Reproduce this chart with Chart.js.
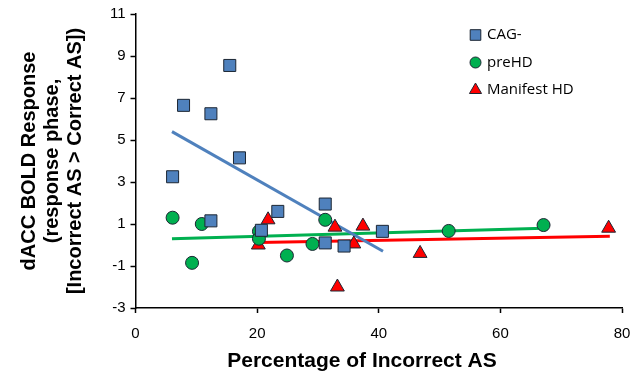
<!DOCTYPE html>
<html>
<head>
<meta charset="utf-8">
<script src="https://cdn.jsdelivr.net/npm/chart.js@4/dist/chart.umd.min.js"></script>
<style>
  html, body { margin: 0; padding: 0; background: #fff; }
  canvas { display: block; }
</style>
</head>
<body>
<canvas id="chartAS" width="632" height="371"></canvas>
<script>
// % incorrect antisaccades vs. dACC response, by group
const cagX = [15.5, 7.9, 12.4, 17.1, 6.1, 12.4, 23.4, 20.7, 31.2, 31.2, 34.3, 40.6];
const cagY = [8.55, 6.65, 6.25, 4.15, 3.25, 1.15, 1.6, 0.7, 1.95, 0.1, -0.05, 0.65];
const preX = [6.1, 9.3, 10.9, 20.3, 20.3, 24.9, 29.1, 31.2, 51.5, 67.1];
const preY = [1.3, -0.85, 1.0, 0.65, 0.3, -0.5, 0.05, 1.2, 0.67, 0.95];
const manX = [20.2, 21.8, 32.8, 33.2, 35.9, 37.4, 46.8, 77.8];
const manY = [0.0, 1.2, 0.85, -2.0, 0.05, 0.9, -0.4, 0.8];

// linear trend end points for each group
const cagFitX = [6.0, 40.7];
const cagFitY = [5.4, -0.3];
const preFitX = [6.0, 67.1];
const preFitY = [0.3, 0.8];
const manFitX = [20.2, 78.0];
const manFitY = [0.12, 0.42];

const xTicks = [0, 20, 40, 60, 80];
const yTicks = [-3, -1, 1, 3, 5, 7, 9, 11];

const xTitle = 'Percentage of Incorrect AS';
const yTitle = ['dACC BOLD Response', '(response phase,', '[Incorrect AS > Correct AS])'];

const BLUE = '#4f81bd';
const GREEN = '#00b050';
const RED = '#ff0000';
const EDGE = '#1c2633';
const FONT = '"Liberation Sans", Arial, sans-serif';

const pts = (xs, ys) => xs.map((x, i) => ({ x: x, y: ys[i] }));

function marks(label, xs, ys, color, style, r) {
  return {
    label: label,
    data: pts(xs, ys),
    pointStyle: style,
    pointRadius: r,
    pointHoverRadius: r,
    backgroundColor: color,
    borderColor: EDGE,
    borderWidth: 1,
    showLine: false,
    order: 1
  };
}

function fit(xs, ys, color) {
  return {
    data: pts(xs, ys),
    showLine: true,
    borderColor: color,
    borderWidth: 3,
    pointRadius: 0,
    fill: false,
    order: 2,
    trend: true
  };
}

// legend in the upper right + x axis title (sits a bit left of plot centre)
const extras = {
  id: 'extras',
  afterDraw(chart) {
    const ctx = chart.ctx;
    let y = 35;
    chart.data.datasets.forEach((ds) => {
      if (ds.trend) return;
      ctx.save();
      ctx.fillStyle = ds.backgroundColor;
      ctx.strokeStyle = ds.borderColor;
      ctx.lineWidth = 1;
      Chart.helpers.drawPoint(ctx, { pointStyle: ds.pointStyle, radius: ds.pointRadius - 1, rotation: 0, borderWidth: 1 }, 475.5, y);
      ctx.fillStyle = '#000';
      ctx.font = '15px "Open Sans", ' + FONT;
      ctx.textBaseline = 'middle';
      ctx.textAlign = 'left';
      ctx.fillText(ds.label, 487, y);
      ctx.restore();
      y += 27.5;
    });

    ctx.save();
    ctx.fillStyle = '#000';
    ctx.font = 'bold 21px ' + FONT;
    ctx.textAlign = 'center';
    ctx.textBaseline = 'alphabetic';
    ctx.fillText(xTitle, 362, 366.5);
    ctx.restore();
  }
};

new Chart(document.getElementById('chartAS'), {
  type: 'scatter',
  data: {
    datasets: [
      marks('CAG-', cagX, cagY, BLUE, 'rect', 8.5),
      marks('preHD', preX, preY, GREEN, 'circle', 6.5),
      marks('Manifest HD', manX, manY, RED, 'triangle', 8),
      fit(cagFitX, cagFitY, BLUE),
      fit(preFitX, preFitY, GREEN),
      fit(manFitX, manFitY, RED)
    ]
  },
  options: {
    responsive: false,
    animation: false,
    layout: { padding: { top: 14, right: 0, left: 0, bottom: 0 } },
    plugins: {
      legend: { display: false },
      tooltip: { enabled: false }
    },
    scales: {
      x: {
        type: 'linear',
        min: 0,
        max: 80,
        afterBuildTicks: (s) => { s.ticks = xTicks.map((v) => ({ value: v })); },
        afterFit: (s) => { s.height = 63; s.paddingLeft = 0; s.paddingRight = 10; },
        border: { display: true, color: '#000', width: 1.5 },
        grid: { drawOnChartArea: false, color: '#000', tickLength: 5, tickWidth: 1.5 },
        ticks: { color: '#000', padding: 12, font: { family: FONT, size: 15 } }
      },
      y: {
        type: 'linear',
        min: -3,
        max: 11,
        afterBuildTicks: (s) => { s.ticks = yTicks.map((v) => ({ value: v })); },
        afterFit: (s) => { s.width = 135.5; },
        border: { display: true, color: '#000', width: 1.5 },
        grid: { drawOnChartArea: false, color: '#000', tickLength: 5, tickWidth: 1.5 },
        ticks: { color: '#000', padding: 5, font: { family: FONT, size: 15 } },
        title: {
          display: true,
          text: yTitle,
          color: '#000',
          font: { family: FONT, size: 20, weight: 'bold', lineHeight: 1.15 },
          padding: { top: 17.5, bottom: 0 }
        }
      }
    }
  },
  plugins: [extras]
});
</script>
</body>
</html>
